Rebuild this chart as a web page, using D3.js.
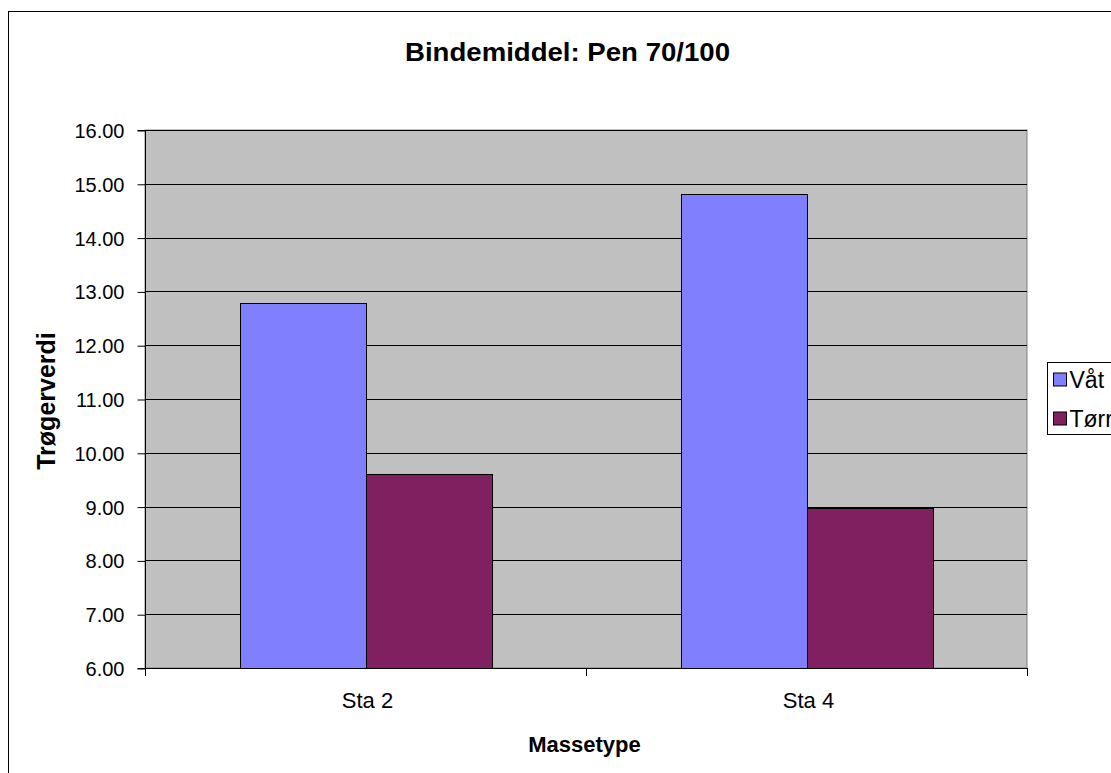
<!DOCTYPE html>
<html>
<head>
<meta charset="utf-8">
<script src="https://cdn.jsdelivr.net/npm/d3@7"></script>
<style>
  html, body { margin: 0; padding: 0; background: #fff; overflow: hidden; }
  svg { display: block; font-family: Arial, "Liberation Sans", sans-serif; }
</style>
</head>
<body>
<svg id="chart" width="1111" height="773"></svg>
<script>
// Trøgerverdi per massetype, wet vs. dry
const categories = ["Sta 2", "Sta 4"];
const seriesNames = ["Våt", "Tørr"];
const vaatValues = [12.78, 14.81];
const toerrValues = [9.60, 8.98];
const yTicks = [6, 7, 8, 9, 10, 11, 12, 13, 14, 15, 16];
const seriesColors = ["#8080FF", "#802060"];

const svg = d3.select("#chart");
const plot = { left: 145, right: 1027, top: 130, bottom: 668 };
const FONT = "Arial, 'Liberation Sans', sans-serif";

// outer chart frame (continues past the right and bottom edges)
svg.append("rect")
  .attr("x", 8.5).attr("y", 11.5)
  .attr("width", 1140).attr("height", 800)
  .attr("fill", "#fff").attr("stroke", "#000").attr("stroke-width", 1);

const x0 = d3.scaleBand().domain(categories).range([plot.left, plot.right]).paddingInner(0).paddingOuter(0);
const x1 = d3.scaleBand().domain(seriesNames).range([0, x0.bandwidth()]).paddingInner(0).paddingOuter(0.75);
const y = d3.scaleLinear().domain([6, 16]).range([plot.bottom, plot.top]);

// plot area
svg.append("rect")
  .attr("x", plot.left).attr("y", plot.top)
  .attr("width", plot.right - plot.left).attr("height", plot.bottom - plot.top)
  .attr("fill", "#C0C0C0").attr("stroke", "#808080").attr("stroke-width", 1);

// gridlines
svg.append("g").selectAll("line")
  .data(yTicks.filter(t => t > 6))
  .join("line")
  .attr("x1", plot.left).attr("x2", plot.right)
  .attr("y1", d => Math.round(y(d)) + 0.5).attr("y2", d => Math.round(y(d)) + 0.5)
  .attr("stroke", "#000").attr("stroke-width", 1);

// bars
const rows = categories.map((c, i) => ({ cat: c, vals: [vaatValues[i], toerrValues[i]] }));
const groups = svg.append("g").selectAll("g")
  .data(rows).join("g")
  .attr("transform", d => `translate(${x0(d.cat)},0)`);
groups.selectAll("rect")
  .data(d => d.vals.map((v, j) => ({ name: seriesNames[j], v, j })))
  .join("rect")
  .attr("x", d => Math.round(x1(d.name)) + 0.5)
  .attr("y", d => Math.round(y(d.v)) + 0.5)
  .attr("width", x1.bandwidth())
  .attr("height", d => y(6) - Math.round(y(d.v)))
  .attr("fill", d => seriesColors[d.j])
  .attr("stroke", "#000").attr("stroke-width", 1);

// y axis
const yAxis = d3.axisLeft(y).tickValues(yTicks).tickFormat(d3.format(".2f")).tickSize(8).tickPadding(13);
const gy = svg.append("g").attr("transform", `translate(${plot.left + 0.5},0.5)`).call(yAxis);
gy.attr("font-size", null).attr("font-family", null);
gy.select(".domain").attr("stroke", "#000").attr("d", `M-8,${y(16)}H0V${y(6)}H-8`);
gy.selectAll(".tick line").attr("stroke", "#000");
gy.selectAll("text").attr("font-size", 20).attr("fill", "#000")
  .attr("font-family", FONT).attr("dy", "0.35em");

// x axis with ticks at category boundaries
svg.append("line")
  .attr("x1", plot.left).attr("x2", plot.right)
  .attr("y1", plot.bottom + 0.5).attr("y2", plot.bottom + 0.5)
  .attr("stroke", "#000");
const bounds = [plot.left, ...categories.map(c => x0(c) + x0.bandwidth())];
svg.append("g").selectAll("line").data(bounds).join("line")
  .attr("x1", d => Math.round(d) + 0.5).attr("x2", d => Math.round(d) + 0.5)
  .attr("y1", plot.bottom).attr("y2", plot.bottom + 8)
  .attr("stroke", "#000");
svg.append("g").selectAll("text").data(categories).join("text")
  .attr("x", d => x0(d) + x0.bandwidth() / 2 + 2)
  .attr("y", 708)
  .attr("text-anchor", "middle")
  .attr("font-size", 22)
  .text(d => d);

// titles
svg.append("text")
  .attr("x", 567.5).attr("y", 61)
  .attr("text-anchor", "middle")
  .attr("font-size", 25).attr("font-weight", "bold")
  .attr("textLength", 325).attr("lengthAdjust", "spacingAndGlyphs")
  .text("Bindemiddel: Pen 70/100");
svg.append("text")
  .attr("x", 584.5).attr("y", 752)
  .attr("text-anchor", "middle")
  .attr("font-size", 22).attr("font-weight", "bold")
  .text("Massetype");
svg.append("text")
  .attr("transform", `translate(55,${(plot.top + plot.bottom) / 2 + 2}) rotate(-90)`)
  .attr("text-anchor", "middle")
  .attr("font-size", 25).attr("font-weight", "bold")
  .text("Trøgerverdi");

// legend
const lg = svg.append("g").attr("transform", "translate(1047.5,362.5)");
lg.append("rect").attr("width", 120).attr("height", 72)
  .attr("fill", "#fff").attr("stroke", "#000");
const items = lg.selectAll("g.item").data(seriesNames).join("g")
  .attr("class", "item")
  .attr("transform", (d, i) => `translate(0,${17 + i * 39})`);
items.append("rect").attr("x", 6).attr("y", -6.5).attr("width", 13).attr("height", 13)
  .attr("fill", (d, i) => seriesColors[i]).attr("stroke", "#000");
items.append("text").attr("x", 22).attr("y", 8)
  .attr("font-size", 23).text(d => d);
</script>
</body>
</html>
